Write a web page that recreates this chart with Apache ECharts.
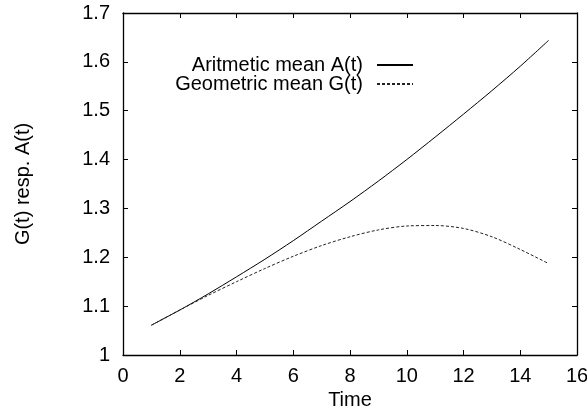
<!DOCTYPE html>
<html>
<head>
<meta charset="utf-8">
<script src="https://cdn.jsdelivr.net/npm/echarts@6/dist/echarts.min.js"></script>
<style>
  html, body { margin: 0; padding: 0; background: #fff; }
  #main { width: 587px; height: 406px; }
</style>
</head>
<body>
<div id="main"></div>
<script>
// values
var times = [1, 2, 3, 4, 5, 6, 7, 8, 9, 10, 11, 12, 13, 14, 15]
var arithMean = [1.061, 1.092, 1.125, 1.160, 1.196, 1.234, 1.274, 1.314, 1.356, 1.400, 1.446, 1.493, 1.541, 1.591, 1.644]
var geoMean = [1.061, 1.092, 1.122, 1.150, 1.177, 1.202, 1.224, 1.242, 1.256, 1.264, 1.265, 1.259, 1.242, 1.216, 1.187]
var seriesNames = ['Aritmetic mean A(t)', 'Geometric mean G(t)']

var font = 'Liberation Sans, Arial, sans-serif'
var fontSize = 20

function pairs (ys) {
  let out = []
  for (let i = 0; i < times.length; i++) {
    out.push([times[i], ys[i]])
  }
  return out
}

var lineAxis = { show: true, onZero: false, lineStyle: { color: '#000', width: 1.3 } }
var tick = { show: true, inside: true, length: 5, lineStyle: { color: '#000' } }

function legendRow (name, top) {
  return {
    data: [name],
    right: 168, top: top,
    align: 'right',
    itemWidth: 36, itemHeight: 20,
    itemStyle: { opacity: 0 },
    textStyle: { fontFamily: font, fontSize: fontSize, color: '#000', padding: [0, 9, 0, 0] }
  }
}

var myChart = echarts.init(document.getElementById('main'))
var option = {
  animation: false,
  backgroundColor: '#fff',
  grid: { left: 123, right: 10, top: 13, bottom: 51, outerBoundsMode: 'none', containLabel: false },
  legend: [legendRow(seriesNames[0], 50), legendRow(seriesNames[1], 69)],
  xAxis: [
    {
      type: 'value', min: 0, max: 16, interval: 2,
      name: 'Time', nameLocation: 'middle', nameGap: 26,
      nameTextStyle: { fontFamily: font, fontSize: fontSize, color: '#000' },
      axisLine: lineAxis, axisTick: tick,
      axisLabel: { fontFamily: font, fontSize: fontSize, color: '#000', margin: 11 },
      splitLine: { show: false }
    },
    {
      type: 'value', position: 'top', min: 0, max: 16, interval: 2,
      axisLine: lineAxis, axisTick: tick,
      axisLabel: { show: false }, splitLine: { show: false }
    }
  ],
  yAxis: [
    {
      type: 'value', min: 1, max: 1.7, interval: 0.1,
      name: 'G(t) resp. A(t)', nameLocation: 'middle', nameGap: 90,
      nameTextStyle: { fontFamily: font, fontSize: fontSize, color: '#000' },
      axisLine: lineAxis, axisTick: tick,
      axisLabel: { fontFamily: font, fontSize: fontSize, color: '#000', margin: 13 },
      splitLine: { show: false }
    },
    {
      type: 'value', position: 'right', min: 1, max: 1.7, interval: 0.1,
      axisLine: lineAxis, axisTick: tick,
      axisLabel: { show: false }, splitLine: { show: false }
    }
  ],
  series: [
    {
      name: seriesNames[0], type: 'line', symbol: 'none', smooth: 0.3,
      lineStyle: { color: '#000', width: 1 },
      itemStyle: { color: '#000' },
      data: pairs(arithMean)
    },
    {
      name: seriesNames[1], type: 'line', symbol: 'none', smooth: 0.3,
      lineStyle: { color: '#222', width: 1, type: [3, 2] },
      itemStyle: { color: '#222' },
      data: pairs(geoMean)
    }
  ]
}
myChart.setOption(option)
</script>
</body>
</html>
